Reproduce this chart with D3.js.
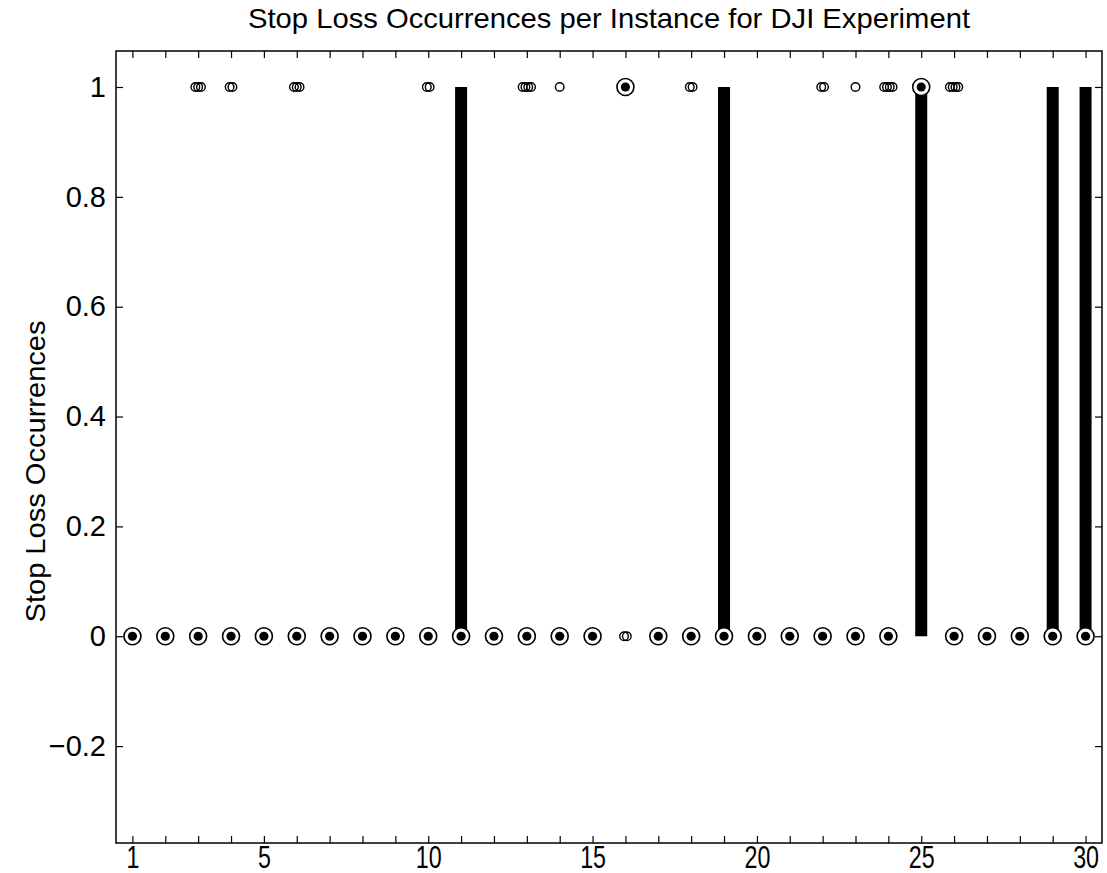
<!DOCTYPE html>
<html>
<head>
<meta charset="utf-8">
<script src="https://cdn.jsdelivr.net/npm/d3@7"></script>
<style>
  body { margin: 0; background: #fff; }
  text { font-family: "Liberation Sans", Arial, sans-serif; fill: #000; }
</style>
</head>
<body>
<svg id="mainsvg" width="1107" height="873"></svg>
<script>
// instances (x categories)
const instances = [1,2,3,4,5,6,7,8,9,10,11,12,13,14,15,16,17,18,19,20,21,22,23,24,25,26,27,28,29,30];
// box stats per instance
const medians = [0,0,0,0,0,0,0,0,0,0,0,0,0,0,0,1,0,0,0,0,0,0,0,0,1,0,0,0,0,0];
const q1s     = [0,0,0,0,0,0,0,0,0,0,0,0,0,0,0,1,0,0,0,0,0,0,0,0,0,0,0,0,0,0];
const q3s     = [0,0,0,0,0,0,0,0,0,0,1,0,0,0,0,1,0,0,1,0,0,0,0,0,1,0,0,0,1,1];
// outliers: instance, value, how many
const outlierInst  = [3,4,6,10,13,14,16,18,22,23,24,26];
const outlierValue = [1,1,1,1,1,1,0,1,1,1,1,1];
const outlierCount = [3,2,3,2,4,1,2,2,2,1,4,4];
const yTicks = [-0.2,0,0.2,0.4,0.6,0.8,1];
const xLabels = [1,5,10,15,20,25,30];

const svg = d3.select('#mainsvg')
const margin = { top: 51, right: 5, bottom: 30, left: 116 };
const width = +svg.attr("width")
const height = +svg.attr("height")
const innerWidth = width - margin.left - margin.right
const innerHeight = 843 - margin.top

const xScale = d3.scaleLinear().domain([0.5, 30.5]).range([0, innerWidth]);
const yScale = d3.scaleLinear().domain([-0.3764, 1.0655]).range([innerHeight, 0]);

const g = svg.append('g').attr("transform", `translate(${margin.left}, ${margin.top})`);

// axes, ticks pointing inward like matlab
const xAxis = d3.axisBottom(xScale).tickValues(instances).tickSizeInner(-7).tickSizeOuter(0)
  .tickPadding(3).tickFormat(d => xLabels.includes(d) ? d : "");
const gx = g.append("g").attr("transform", `translate(0, ${innerHeight})`).call(xAxis);
const xTop = d3.axisTop(xScale).tickValues(instances).tickSizeInner(-7).tickSizeOuter(0).tickFormat("");
g.append("g").call(xTop);

const yAxis = d3.axisLeft(yScale).tickValues(yTicks).tickSizeInner(-7).tickSizeOuter(0)
  .tickPadding(10).tickFormat(d3.format("~g"));
const gy = g.append("g").call(yAxis);
const yRight = d3.axisRight(yScale).tickValues(yTicks).tickSizeInner(-7).tickSizeOuter(0).tickFormat("");
g.append("g").attr("transform", `translate(${innerWidth},0)`).call(yRight);

g.selectAll(".domain").remove();
g.selectAll(".tick line").attr("stroke", "#000").attr("stroke-width", 1.2);
g.append("rect").attr("width", innerWidth).attr("height", innerHeight)
  .attr("fill", "none").attr("stroke", "#000").attr("stroke-width", 1.5);

gy.selectAll(".tick text").attr("font-size", 29).attr("font-family", "Liberation Sans, Arial, sans-serif");
// drop the empty labels between the labelled ticks
gx.selectAll(".tick text").filter(function() { return this.textContent === ""; }).remove();
gx.selectAll(".tick text").attr("font-size", 31).attr("font-family", "Liberation Sans, Arial, sans-serif")
  .attr("dy", "0.71em")
  .each(function() {
    const len = this.getComputedTextLength();
    d3.select(this).attr("textLength", len * 0.75).attr("lengthAdjust", "spacingAndGlyphs");
  });

// boxes
const boxW = 12;
instances.forEach((d, i) => {
  if (q3s[i] > q1s[i]) {
    g.append("rect")
      .attr("x", xScale(d) - boxW / 2)
      .attr("y", yScale(q3s[i]))
      .attr("width", boxW)
      .attr("height", yScale(q1s[i]) - yScale(q3s[i]))
      .attr("fill", "#000");
  }
});

// outliers, jittered sideways
outlierInst.forEach((d, i) => {
  const n = outlierCount[i];
  for (let k = 0; k < n; k++) {
    const off = (k - (n - 1) / 2) * 2.8;
    g.append("circle")
      .attr("cx", xScale(d) + off)
      .attr("cy", yScale(outlierValue[i]))
      .attr("r", 4.3)
      .attr("fill", "none")
      .attr("stroke", "#000")
      .attr("stroke-width", 1.4);
  }
});

// medians: circle with dot
instances.forEach((d, i) => {
  g.append("circle")
    .attr("cx", xScale(d)).attr("cy", yScale(medians[i]))
    .attr("r", 8.5).attr("fill", "#fff").attr("stroke", "#000").attr("stroke-width", 1.6);
  g.append("circle")
    .attr("cx", xScale(d)).attr("cy", yScale(medians[i]))
    .attr("r", 4.6).attr("fill", "#000");
});

// title
const title = svg.append("text").text("Stop Loss Occurrences per Instance for DJI Experiment")
  .attr("x", margin.left + innerWidth / 2).attr("y", 28)
  .attr("text-anchor", "middle").attr("font-size", 28);
title.attr("textLength", 722).attr("lengthAdjust", "spacingAndGlyphs");

// y label
const ylab = svg.append("text").text("Stop Loss Occurrences")
  .attr("transform", `translate(45, ${margin.top + yScale(0.3)}) rotate(-90)`)
  .attr("text-anchor", "middle").attr("font-size", 28);
ylab.attr("textLength", 302).attr("lengthAdjust", "spacingAndGlyphs");
</script>
</body>
</html>
